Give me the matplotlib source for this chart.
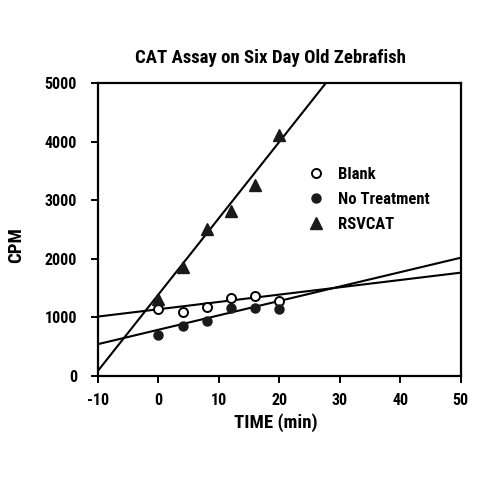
import numpy as np
import matplotlib
matplotlib.use("Agg")
import matplotlib.pyplot as plt

plt.rcParams['font.family'] = ['Roboto Condensed', 'DejaVu Sans']
plt.rcParams['font.weight'] = 'bold'
plt.rcParams['axes.unicode_minus'] = False

# data
time = [0, 4, 8, 12, 16, 20]
blank = [1138, 1087, 1178, 1326, 1365, 1280]
no_treatment = [700, 848, 944, 1155, 1155, 1149]
rsvcat = [1309, 1855, 2514, 2821, 3254, 4107]

# regression lines as drawn: (slope, intercept)
fit_blank = (12.5, 1137)
fit_no_treatment = (24.6, 787)
fit_rsvcat = (130.4, 1389)

xticks = [-10, 0, 10, 20, 30, 40, 50]
yticks = [0, 1000, 2000, 3000, 4000, 5000]

fig = plt.figure(figsize=(4.8, 4.8), dpi=100)
ax = fig.add_axes([0.204, 0.217, 0.756, 0.61])

xs = np.array([-10, 50])
for k, b in (fit_blank, fit_no_treatment, fit_rsvcat):
    ax.plot(xs, k * xs + b, color='black', lw=1.5, zorder=2)

ax.plot(time, blank, 'o', ms=6.5, mfc='white', mec='black', mew=1.4, ls='none', label='Blank', zorder=3)
ax.plot(time, no_treatment, 'o', ms=6.5, color='#1a1a1a', ls='none', label='No Treatment', zorder=3)
ax.plot(time, rsvcat, '^', ms=8.5, color='#1a1a1a', ls='none', label='RSVCAT', zorder=3)

ax.set_xlim(-10, 50)
ax.set_ylim(0, 5000)
ax.set_xticks(xticks)
ax.set_yticks(yticks)
ax.tick_params(direction='out', length=5, width=1.4, labelsize=11.5)
ax.tick_params(axis='y', pad=10)
ax.tick_params(axis='x', pad=7)
for s in ax.spines.values():
    s.set_linewidth(1.6)

fig.text(0.5625, 0.88, 'CAT Assay on Six Day Old Zebrafish', fontsize=13.5,
         fontweight='bold', ha='center', va='center')
ax.set_xlabel('TIME (min)', fontsize=13.5, fontweight='bold', va='center')
ax.xaxis.set_label_coords(0.49, -0.16)
ax.set_ylabel('CPM', fontsize=13.5, fontweight='bold', va='center')
ax.yaxis.set_label_coords(-0.226, 0.447)

ax.legend(loc='upper left', bbox_to_anchor=(0.56, 0.735), frameon=False, fontsize=12,
          handlelength=1.0, handletextpad=0.8, labelspacing=0.58, borderaxespad=0)

fig.savefig('out.png', dpi=100)
